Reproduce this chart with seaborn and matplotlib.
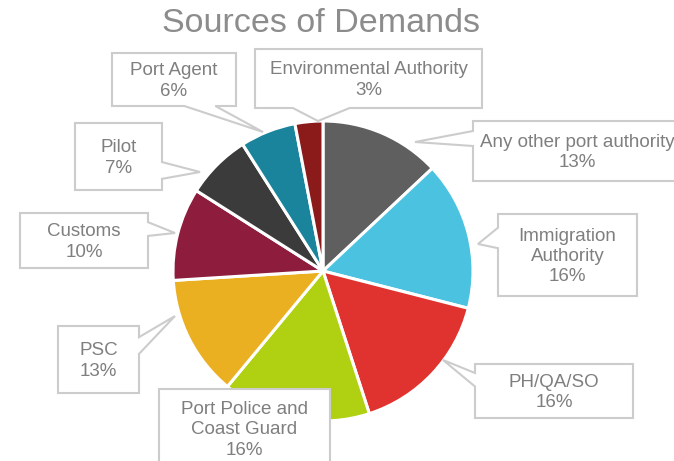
import matplotlib
matplotlib.use("Agg")
import matplotlib.pyplot as plt
import seaborn as sns
from matplotlib.patches import Polygon

# ---------------- data ----------------
title = "Sources of Demands"
categories = ["Any other port authority", "Immigration\nAuthority", "PH/QA/SO",
              "Port Police and\nCoast Guard", "PSC", "Customs", "Pilot",
              "Port Agent", "Environmental Authority"]
shares = [13, 16, 16, 16, 13, 10, 7, 6, 3]
slice_colors = ["#5f5f5f", "#4bc3e0", "#e0332f", "#b0d012", "#ebb022",
                "#8e1c3c", "#3b3b3b", "#1a849c", "#8b1a1a"]

# ---------------- layout (pixels, y downward) ----------------
W, H = 674, 461
pie_center = (323, 271)
pie_radius = 150
box_px = [(473, 121, 691, 181), (498, 214, 637, 296), (475, 364, 633, 418),
          (159, 389, 330, 468), (58, 326, 139, 393), (20, 213, 148, 268),
          (75, 123, 162, 190), (112, 53, 236, 106), (255, 49, 482, 108)]
text_dx = [-5, 0, 0, 0, 0, 0, 0, 0, 0]
tip_px = [(415, 142), (478, 244), (443, 360), None, (175, 316), (175, 233),
          (200, 172), (263, 132), (318, 121)]

sns.set_theme(style="white")
plt.rcParams['font.family'] = ['Liberation Sans', 'DejaVu Sans']

fig = plt.figure(figsize=(W / 100, H / 100), dpi=100)
ax = fig.add_axes([0, 0, 1, 1])

palette = sns.color_palette(slice_colors)
ax.pie(shares, colors=palette, startangle=90, counterclock=False,
       radius=pie_radius, center=(pie_center[0], H - pie_center[1]),
       wedgeprops=dict(edgecolor="white", linewidth=2.2))
ax.set_xlim(0, W)
ax.set_ylim(0, H)
ax.set_aspect("equal")
ax.axis("off")


def callout_points(box, tip):
    x0, y0, x1, y1 = box
    w, h = x1 - x0, y1 - y0
    cx, cy = (x0 + x1) / 2, (y0 + y1) / 2
    if tip is None:
        return [(x0, y0), (x1, y0), (x1, y1), (x0, y1)]
    dx = (tip[0] - cx) / w
    dy = (tip[1] - cy) / h
    if abs(dx) >= abs(dy):
        if dy > 0:
            b0, b1 = y0 + 7 * h / 12, y0 + 10 * h / 12
        else:
            b0, b1 = y0 + 2 * h / 12, y0 + 5 * h / 12
        if dx > 0:
            return [(x0, y0), (x1, y0), (x1, b0), tip, (x1, b1), (x1, y1), (x0, y1)]
        return [(x0, y0), (x1, y0), (x1, y1), (x0, y1), (x0, b1), tip, (x0, b0)]
    if dx > 0:
        b0, b1 = x0 + 7 * w / 12, x0 + 10 * w / 12
    else:
        b0, b1 = x0 + 2 * w / 12, x0 + 5 * w / 12
    if dy > 0:
        return [(x0, y0), (x1, y0), (x1, y1), (b1, y1), tip, (b0, y1), (x0, y1)]
    return [(x0, y0), (b0, y0), tip, (b1, y0), (x1, y0), (x1, y1), (x0, y1)]


for cat, share, box, tip, tdx in zip(categories, shares, box_px, tip_px, text_dx):
    pts = [(x, H - y) for x, y in callout_points(box, tip)]
    ax.add_patch(Polygon(pts, closed=True, facecolor="white",
                         edgecolor="#cccccc", linewidth=1.5, zorder=5,
                         joinstyle="miter", clip_on=False))
    cx = (box[0] + box[2]) / 2 + tdx
    cy = (box[1] + box[3]) / 2 + 1.5
    ax.text(cx, H - cy, f"{cat}\n{share}%", ha="center", va="center",
            fontsize=13.5, color="#7f7f7f", linespacing=1.25, zorder=6,
            clip_on=False)

ax.text(321, H - 24, title, ha="center", va="center", fontsize=24.5,
        color="#8c8c8c", zorder=6)

fig.savefig("out.png", dpi=100)
